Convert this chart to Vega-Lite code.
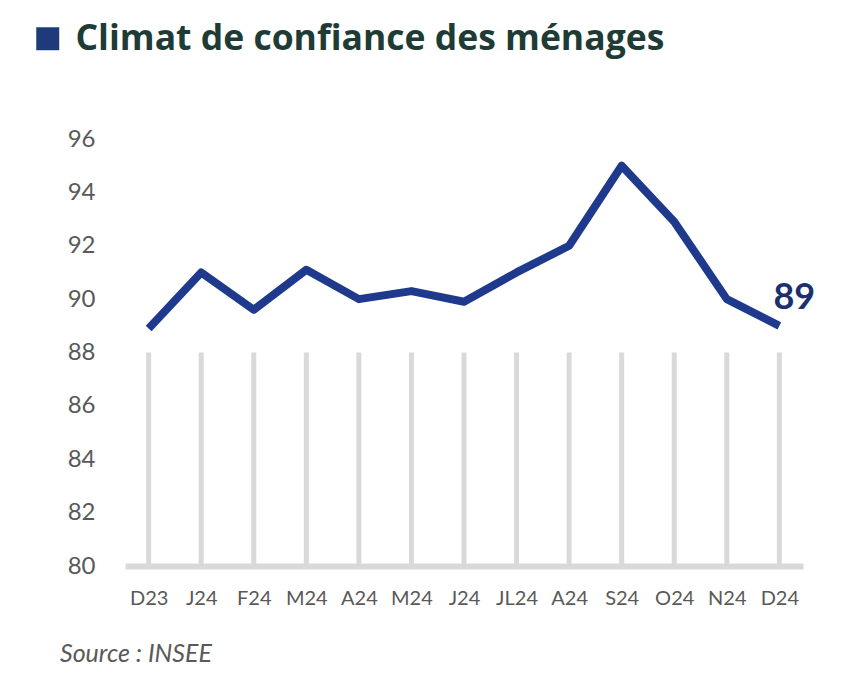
{
  "$schema": "https://vega.github.io/schema/vega-lite/v6.json",
  "autosize": {"type": "none"},
  "width": 678,
  "height": 427,
  "padding": {"left": 125, "top": 139, "right": 49, "bottom": 128},
  "background": "white",
  "view": {"stroke": null},
  "title": {
    "text": "Source : INSEE",
    "orient": "bottom",
    "anchor": "start",
    "frame": "group",
    "dx": -65,
    "offset": 34,
    "font": "Lato",
    "fontSize": 25,
    "fontStyle": "italic",
    "fontWeight": "normal",
    "color": "#595959"
  },
  "data": {
    "values": [
      {"mois": "2023-12", "serie": "Climat de confiance des ménages", "valeur": 88.9},
      {"mois": "2024-01", "serie": "Climat de confiance des ménages", "valeur": 91.0},
      {"mois": "2024-02", "serie": "Climat de confiance des ménages", "valeur": 89.6},
      {"mois": "2024-03", "serie": "Climat de confiance des ménages", "valeur": 91.1},
      {"mois": "2024-04", "serie": "Climat de confiance des ménages", "valeur": 90.0},
      {"mois": "2024-05", "serie": "Climat de confiance des ménages", "valeur": 90.3},
      {"mois": "2024-06", "serie": "Climat de confiance des ménages", "valeur": 89.9},
      {"mois": "2024-07", "serie": "Climat de confiance des ménages", "valeur": 91.0},
      {"mois": "2024-08", "serie": "Climat de confiance des ménages", "valeur": 92.0},
      {"mois": "2024-09", "serie": "Climat de confiance des ménages", "valeur": 95.0},
      {"mois": "2024-10", "serie": "Climat de confiance des ménages", "valeur": 92.9},
      {"mois": "2024-11", "serie": "Climat de confiance des ménages", "valeur": 90.0},
      {"mois": "2024-12", "serie": "Climat de confiance des ménages", "valeur": 89.0}
    ]
  },
  "encoding": {
    "x": {
      "field": "mois",
      "type": "ordinal",
      "scale": {"type": "point", "padding": 0.45},
      "axis": {
        "title": null,
        "labelAngle": 0,
        "labelFont": "Lato",
        "labelFontSize": 20,
        "labelColor": "#595959",
        "labelPadding": 22,
        "ticks": false,
        "grid": false,
        "domainColor": "#d9d9d9",
        "domainWidth": 6,
        "labelExpr": "{'2023-12':'D23','2024-01':'J24','2024-02':'F24','2024-03':'M24','2024-04':'A24','2024-05':'M24','2024-06':'J24','2024-07':'JL24','2024-08':'A24','2024-09':'S24','2024-10':'O24','2024-11':'N24','2024-12':'D24'}[datum.value]"
      }
    },
    "y": {
      "field": "valeur",
      "type": "quantitative",
      "scale": {"domain": [80, 96], "nice": false, "zero": false},
      "axis": {
        "title": null,
        "values": [80, 82, 84, 86, 88, 90, 92, 94, 96],
        "labelFont": "Lato",
        "labelFontSize": 24,
        "labelColor": "#595959",
        "labelPadding": 30,
        "ticks": false,
        "grid": false,
        "domain": false
      }
    }
  },
  "layer": [
    {
      "mark": {"type": "rule", "color": "#d9d9d9", "strokeWidth": 5},
      "encoding": {
        "y": {"datum": 80, "type": "quantitative"},
        "y2": {"datum": 88}
      }
    },
    {
      "mark": {"type": "line", "strokeWidth": 8, "strokeJoin": "round", "strokeCap": "butt"},
      "encoding": {
        "color": {
          "field": "serie",
          "type": "nominal",
          "scale": {"range": ["#1f3a8c"]},
          "legend": {
            "title": null,
            "orient": "none",
            "legendX": -95,
            "legendY": -118,
            "padding": 0,
            "symbolType": "square",
            "symbolSize": 529,
            "symbolFillColor": "#1f3a7a",
            "symbolStrokeWidth": 0,
            "labelFont": "Open Sans",
            "labelFontSize": 35.5,
            "labelFontWeight": "bold",
            "labelColor": "#1e3b35",
            "labelLimit": 0,
            "labelOffset": 10
          }
        }
      }
    },
    {
      "transform": [{"filter": "datum.mois == '2024-12'"}],
      "mark": {
        "type": "text",
        "font": "Lato",
        "fontSize": 36,
        "fontWeight": "bold",
        "color": "#1c2f6e",
        "dx": 15,
        "dy": -28,
        "align": "center",
        "baseline": "middle"
      },
      "encoding": {
        "text": {"field": "valeur", "type": "quantitative", "format": ".0f"}
      }
    }
  ]
}
